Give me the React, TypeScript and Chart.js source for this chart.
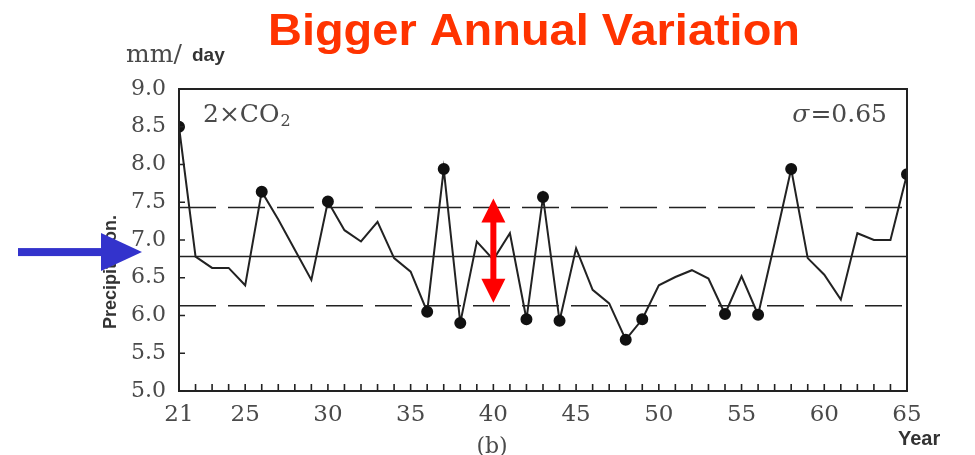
import React, { useEffect, useRef } from "react";
import { Chart, registerables } from "chart.js";
Chart.register(...registerables);

const years = [21,22,23,24,25,26,27,28,29,30,31,32,33,34,35,36,37,38,39,40,41,42,43,44,45,46,47,48,49,50,51,52,53,54,55,56,57,58,59,60,61,62,63,64,65];
const precip = [8.50,6.78,6.63,6.63,6.40,7.64,7.27,6.87,6.47,7.51,7.13,6.98,7.24,6.76,6.58,6.05,7.94,5.90,6.98,6.74,7.09,5.95,7.57,5.93,6.89,6.34,6.16,5.68,5.95,6.40,6.51,6.60,6.49,6.02,6.52,6.01,6.96,7.94,6.76,6.54,6.21,7.09,7.00,7.00,7.87];
const markedYears = [21,26,30,36,37,38,42,43,44,48,49,54,56,58,65];
const meanValue = 6.78;
const sigma = 0.65;
const xTickLabels = [21,25,30,35,40,45,50,55,60,65];
const yTickValues = [5.0,5.5,6.0,6.5,7.0,7.5,8.0,8.5,9.0];
const arrowYear = 40;
const arrowRange = [6.17, 7.55];
const blueArrowValue = 6.84;

const INK = "#222";
const GREY = "#4a4a4a";
const SERIF = "'DejaVu Serif', 'Liberation Serif', serif";
const SANS = "'Liberation Sans', Arial, sans-serif";

const decorPlugin = {
  id: "decor",
  afterDraw(chart: any) {
    const { ctx, chartArea: ca, scales } = chart;
    const xs = scales.x, ys = scales.y;
    ctx.save();
    // frame
    ctx.strokeStyle = INK;
    ctx.lineWidth = 2;
    ctx.strokeRect(ca.left, ca.top, ca.right - ca.left, ca.bottom - ca.top);
    // inner ticks
    ctx.lineWidth = 1.6;
    ctx.beginPath();
    for (const yr of years) {
      const px = xs.getPixelForValue(yr);
      ctx.moveTo(px, ca.bottom);
      ctx.lineTo(px, ca.bottom - 7);
    }
    for (const v of yTickValues) {
      const py = ys.getPixelForValue(v);
      ctx.moveTo(ca.left, py);
      ctx.lineTo(ca.left + 6, py);
    }
    ctx.stroke();

    // title
    ctx.fillStyle = "#ff3300";
    ctx.font = `bold 45px ${SANS}`;
    ctx.textBaseline = "alphabetic";
    const title = "Bigger Annual Variation";
    const tw = ctx.measureText(title).width;
    const targetW = 532;
    ctx.save();
    ctx.translate(268, 45);
    ctx.scale(targetW / tw, 1);
    ctx.textAlign = "left";
    ctx.fillText(title, 0, 0);
    ctx.restore();

    // mm/day
    ctx.fillStyle = GREY;
    ctx.textAlign = "left";
    ctx.font = `25px ${SERIF}`;
    ctx.fillText("mm/", 126, 62);
    ctx.fillStyle = "#333";
    ctx.font = `bold 19px ${SANS}`;
    ctx.fillText("day", 192, 61);

    // 2xCO2
    ctx.fillStyle = GREY;
    ctx.font = `25px ${SERIF}`;
    ctx.fillText("2\u00D7CO", 203, 122);
    const w1 = ctx.measureText("2\u00D7CO").width;
    ctx.font = `16px ${SERIF}`;
    ctx.fillText("2", 203 + w1 + 1, 126);

    // sigma
    ctx.textAlign = "right";
    ctx.font = `25px ${SERIF}`;
    const rest = "=0.65";
    ctx.fillText(rest, 887, 122);
    const rw = ctx.measureText(rest).width;
    ctx.font = `italic 25px ${SERIF}`;
    ctx.fillText("\u03C3", 887 - rw - 1, 122);

    // (b)
    ctx.textAlign = "center";
    ctx.font = `22px ${SERIF}`;
    ctx.fillText("(b)", 492, 453);

    // Year
    ctx.fillStyle = "#333";
    ctx.textAlign = "left";
    ctx.font = `bold 20px ${SANS}`;
    ctx.fillText("Year", 898, 445);

    // Precipitation (rotated)
    ctx.save();
    ctx.translate(116, 272);
    ctx.rotate(-Math.PI / 2);
    ctx.textAlign = "center";
    ctx.fillStyle = "#333";
    ctx.font = `bold 18px ${SANS}`;
    ctx.fillText("Precipitation.", 0, 0);
    ctx.restore();

    // blue arrow
    const by = ys.getPixelForValue(blueArrowValue);
    ctx.fillStyle = "#3333cc";
    ctx.fillRect(18, by - 4, 86, 8);
    ctx.beginPath();
    ctx.moveTo(101, by - 19);
    ctx.lineTo(142, by);
    ctx.lineTo(101, by + 19);
    ctx.closePath();
    ctx.fill();

    // red double arrow
    const rx = xs.getPixelForValue(arrowYear);
    const ty = ys.getPixelForValue(arrowRange[1]);
    const bty = ys.getPixelForValue(arrowRange[0]);
    ctx.fillStyle = "#ff0000";
    ctx.fillRect(rx - 3, ty + 20, 6, bty - ty - 40);
    ctx.beginPath();
    ctx.moveTo(rx, ty);
    ctx.lineTo(rx + 12, ty + 24);
    ctx.lineTo(rx - 12, ty + 24);
    ctx.closePath();
    ctx.fill();
    ctx.beginPath();
    ctx.moveTo(rx, bty);
    ctx.lineTo(rx + 12, bty - 24);
    ctx.lineTo(rx - 12, bty - 24);
    ctx.closePath();
    ctx.fill();

    ctx.restore();
  },
};

export default function App() {
  const ref = useRef<HTMLCanvasElement | null>(null);
  useEffect(() => {
    if (!ref.current) return;
    const first = years[0];
    const last = years[years.length - 1];
    const flat = (v: number) => [{ x: first, y: v }, { x: last, y: v }];
    const chart = new Chart(ref.current, {
      type: "line",
      data: {
        datasets: [
          {
            label: "Precipitation",
            data: years.map((y, i) => ({ x: y, y: precip[i] })),
            borderColor: INK,
            borderWidth: 2,
            backgroundColor: "#111",
            pointBackgroundColor: "#111",
            pointBorderColor: "#111",
            pointRadius: (c: any) => (markedYears.includes(years[c.dataIndex]) ? 5 : 0),
            pointHoverRadius: 0,
            tension: 0,
          },
          {
            label: "Mean",
            data: flat(meanValue),
            borderColor: INK,
            borderWidth: 1.5,
            pointRadius: 0,
          },
          {
            label: "+sigma",
            data: flat(meanValue + sigma),
            borderColor: INK,
            borderWidth: 1.5,
            borderDash: [37, 12],
            pointRadius: 0,
          },
          {
            label: "-sigma",
            data: flat(meanValue - sigma),
            borderColor: INK,
            borderWidth: 1.5,
            borderDash: [37, 12],
            pointRadius: 0,
          },
        ],
      },
      options: {
        responsive: false,
        animation: false,
        devicePixelRatio: 1,
        layout: { padding: { left: 109, right: 68, top: 89, bottom: 24 } },
        plugins: { legend: { display: false }, tooltip: { enabled: false }, title: { display: false } },
        scales: {
          x: {
            type: "linear",
            min: 21,
            max: 65,
            afterBuildTicks: (s: any) => {
              s.ticks = xTickLabels.map((v) => ({ value: v }));
            },
            afterFit: (s: any) => {
              s.height = 40;
            },
            grid: { display: false, drawTicks: false },
            border: { display: false },
            ticks: {
              autoSkip: false,
              maxRotation: 0,
              padding: 10,
              color: GREY,
              font: { family: SERIF, size: 23 },
              callback: (v: any) => String(v),
            },
          },
          y: {
            type: "linear",
            min: 5,
            max: 9,
            afterBuildTicks: (s: any) => {
              s.ticks = yTickValues.map((v) => ({ value: v }));
            },
            afterFit: (s: any) => {
              s.width = 70;
            },
            grid: { display: false, drawTicks: false },
            border: { display: false },
            ticks: {
              autoSkip: false,
              padding: 13,
              color: GREY,
              font: { family: SERIF, size: 22 },
              callback: (v: any) => Number(v).toFixed(1),
            },
          },
        },
      },
      plugins: [decorPlugin],
    });
    return () => chart.destroy();
  }, []);
  return (
    <div style={{ position: "absolute", left: 0, top: 0, width: 975, height: 455, background: "#fff" }}>
      <canvas ref={ref} width={975} height={455} style={{ display: "block" }} />
    </div>
  );
}
